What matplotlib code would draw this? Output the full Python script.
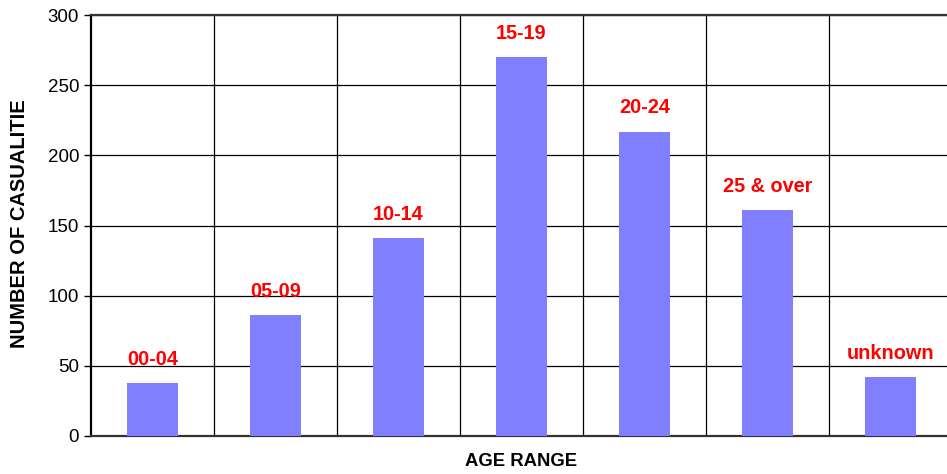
import matplotlib.pyplot as plt
from matplotlib.transforms import Bbox

categories = ['00-04', '05-09', '10-14', '15-19', '20-24', '25 & over', 'unknown']
casualties = [38, 86, 141, 270, 217, 161, 42]
y_ticks = [0, 50, 100, 150, 200, 250, 300]

plt.rcParams['font.family'] = ['Liberation Sans', 'DejaVu Sans']

fig = plt.figure(figsize=(9.47, 4.74), dpi=100)
ax = fig.add_axes([0.0961, 0.0802, 0.909, 0.888])

x = range(len(categories))
ax.bar(x, casualties, width=0.41, color='#8080ff', zorder=3)

for i, (cat, val) in enumerate(zip(categories, casualties)):
    ax.annotate(cat, (i, val), xytext=(0, 13), textcoords='offset points',
                ha='center', va='baseline', color='red', fontsize=14.3,
                fontweight='bold', zorder=4)

ax.set_xlim(-0.5, len(categories) - 0.5)
ax.set_ylim(0, 300)
ax.set_yticks(y_ticks)
ax.tick_params(axis='y', labelsize=13.5, length=5, width=1, direction='out')
ax.set_xticks([])

# category separators and horizontal grid
for b in range(1, len(categories)):
    ax.axvline(b - 0.5, color='black', lw=0.9, zorder=1)
for t in y_ticks[1:]:
    ax.axhline(t, color='black', lw=0.9, zorder=1)

for s in ['left', 'bottom', 'top']:
    ax.spines[s].set_linewidth(1.6)
ax.spines['left'].set_color('black')
ax.spines['bottom'].set_color('#333333')
ax.spines['top'].set_color('#333333')
ax.spines['right'].set_visible(False)

ax.set_xlabel('AGE RANGE', fontsize=13.3, fontweight='bold', labelpad=12)

ylab = fig.text(0.021, 0.266, 'NUMBER OF CASUALITIES', rotation=90,
                ha='center', va='bottom', fontsize=14.5, fontweight='bold')
ylab.set_clip_box(Bbox.from_extents(0, 0, 100, 374))
ylab.set_clip_on(True)

fig.savefig('out.png', dpi=100)
